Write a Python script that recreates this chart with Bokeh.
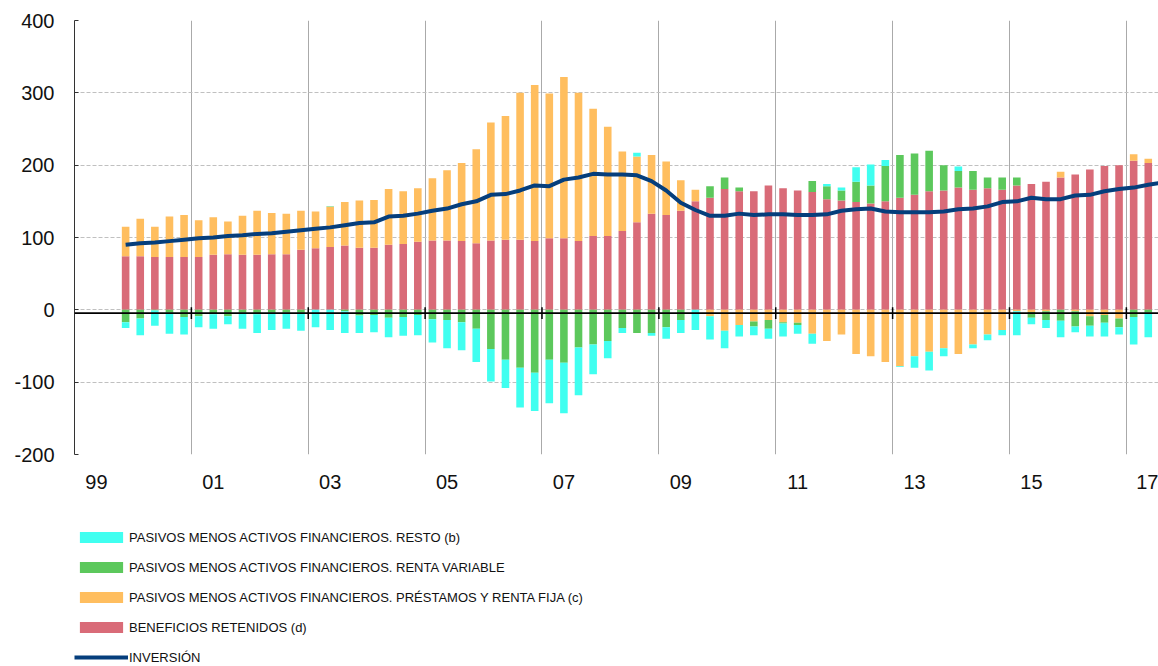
import numpy as np
from bokeh.plotting import figure
from bokeh.layouts import column
from bokeh.models import FixedTicker, Legend, LegendItem, Span, Range1d
from bokeh.embed import file_html
from bokeh.resources import INLINE

# ---------------- data ----------------
quarters = [f"{y}Q{q}" for y in range(1999, 2018) for q in range(1, 5)]
quarters = quarters[quarters.index("1999Q4"):quarters.index("2017Q2") + 1]
line_quarters = quarters + ["2017Q3"]

resto = [-8, -23, -21, -29, -24, -15, -20, -11, -22, -26, -24, -22, -25,
         -24, -28, -30, -24, -24, -27, -26, -28, -32, -39, -39, -46, -45, -39, -55, -53,
         -60, -70, -66, -41, -24, -7, 5, -4, -16, -18, -28, -32, -24, -16, -12, -14, -18,
         -12, -14, 3, 4, 20, 29, 8, -1, -16, -26, -11, 6, -5, -8, -7, -33,
         -9, -11, -23, -8, -15, -19, -10, -38, -34]

renta_variable = [-17, -12, -1, -4, -10, -9, -6, -9, -4, -6, -4, -4, -4,
                  0, 1, -2, -8, -7, -11, -10, -7, -13, -14, -17, -26, -54, -69, -80, -87,
                  -69, -73, -52, -48, -43, -25, -32, -32, -24, -14, 0, 16, 16, 5, -7, -12, -2,
                  -3, 15, 18, 14, 28, 25, 49, 59, 57, 56, 35, 23, 26, 15, 17, 11,
                  -8, -12, -15, -21, -13, -11, -12, -10, -4]

prestamos = [41, 52, 42, 56, 58, 51, 52, 45, 54, 61, 57, 56, 54,
             51, 55, 60, 65, 66, 77, 73, 74, 86, 97, 108, 130, 163, 171, 203, 216,
             200, 223, 205, 176, 151, 110, 91, 81, 74, 42, 16, -9, -29, -21, -16, -14, -17,
             -18, -33, -43, -34, -61, -64, -72, -78, -64, -58, -53, -61, -48, -34, -28, -2,
             -3, -2, 8, -2, -9, -7, -12, 9, 6]

beneficios = [74, 74, 73, 73, 73, 73, 76, 77, 76, 76, 77, 77, 83,
              85, 87, 89, 86, 86, 90, 91, 94, 96, 96, 95, 92, 96, 97, 97, 95,
              99, 99, 95, 102, 102, 109, 121, 133, 131, 137, 150, 155, 167, 164, 164, 172, 168,
              165, 163, 153, 151, 149, 147, 150, 155, 159, 164, 165, 169, 166, 168, 166, 172,
              174, 177, 183, 187, 194, 199, 200, 206, 203]

inversion = [90, 92, 93, 95, 97, 99, 100, 102, 103, 105, 106, 108, 110,
             112, 114, 117, 120, 121, 129, 130, 133, 137, 140, 146, 150, 159, 160, 165, 172,
             171, 180, 183, 188, 187, 187, 186, 178, 165, 148, 138, 130, 130, 133, 131, 132, 132,
             131, 131, 132, 137, 139, 140, 136, 135, 135, 135, 136, 139, 140, 143, 149, 150,
             155, 153, 153, 158, 159, 164, 167, 169, 173, 176]

year_labels = ["99", "01", "03", "05", "07", "09", "11", "13", "15", "17"]
y_ticks = [-200, -100, 0, 100, 200, 300, 400]

series_names = ["PASIVOS MENOS ACTIVOS FINANCIEROS. RESTO (b)",
                "PASIVOS MENOS ACTIVOS FINANCIEROS. RENTA VARIABLE",
                "PASIVOS MENOS ACTIVOS FINANCIEROS. PRÉSTAMOS Y RENTA FIJA (c)",
                "BENEFICIOS RETENIDOS (d)",
                "INVERSIÓN"]

# ---------------- helpers ----------------
def qpos(qs):
    return np.array([(int(s[:4]) - 1999) * 4 + int(s[-1]) - 1 + 0.5 for s in qs])

x = qpos(quarters)
xl = qpos(line_quarters)

b = np.array(beneficios, float)
series = [np.array(prestamos, float), np.array(renta_variable, float), np.array(resto, float)]
pos_base = b.copy()
neg_base = np.zeros_like(b)
stacks = []
for s in series:
    pp = np.clip(s, 0, None)
    nn = np.clip(s, None, 0)
    stacks.append((pos_base.copy(), pos_base + pp, neg_base + nn, neg_base.copy()))
    pos_base = pos_base + pp
    neg_base = neg_base + nn

C_RESTO = "#40fff0"
C_RV = "#5cc85c"
C_PR = "#ffbe5f"
C_BEN = "#d96b78"
C_INV = "#053e7c"

p = figure(width=1158, height=500, output_backend="svg", toolbar_location=None,
           x_range=Range1d(0, 74.2), y_range=Range1d(-200, 400),
           min_border_left=73, min_border_right=0, min_border_top=20,
           min_border_bottom=46)
p.outline_line_color = None
p.background_fill_color = "white"

W = 0.52
p.vbar(x=x, bottom=0, top=b, width=W, fill_color=C_BEN, line_color=None)
for (pb, pt, nb, nt), col in zip(stacks, [C_PR, C_RV, C_RESTO]):
    p.vbar(x=x, bottom=pb, top=pt, width=W, fill_color=col, line_color=None)
    p.vbar(x=x, bottom=nb, top=nt, width=W, fill_color=col, line_color=None)

p.line(xl, inversion, line_color=C_INV, line_width=4)

# zero baseline with small ticks
p.add_layout(Span(location=-4.5, dimension="width", line_color="black", line_width=1.6))
grid_x = [8, 16, 24, 32, 40, 48, 56, 64, 72]
p.segment(x0=grid_x, x1=grid_x, y0=[-12.5] * len(grid_x), y1=[3.5] * len(grid_x),
          line_color="black", line_width=1.5)

# axes
p.xaxis.ticker = FixedTicker(ticks=[1.5 + 8 * i for i in range(len(year_labels))])
p.xaxis.major_label_overrides = {1.5 + 8 * i: lab for i, lab in enumerate(year_labels)}
p.xaxis.axis_line_color = None
p.xaxis.major_tick_line_color = None
p.xaxis.minor_tick_line_color = None
p.xaxis.major_tick_in = 0
p.xaxis.major_tick_out = 0
p.xaxis.major_label_standoff = 20
p.xaxis.major_label_text_font = "Liberation Sans"
p.xaxis.major_label_text_font_size = "20px"
p.xaxis.major_label_text_color = "#111111"

p.yaxis.ticker = FixedTicker(ticks=y_ticks)
p.yaxis.major_label_overrides = {t: str(t) for t in y_ticks}
p.yaxis.axis_line_color = "#333333"
p.yaxis.major_tick_in = 4
p.yaxis.major_tick_out = 0
p.yaxis.major_tick_line_color = "#333333"
p.yaxis.minor_tick_line_color = None
p.yaxis.major_label_standoff = 20
p.yaxis.major_label_text_font = "Liberation Sans"
p.yaxis.major_label_text_font_size = "20px"
p.yaxis.major_label_text_color = "#111111"

p.ygrid.ticker = FixedTicker(ticks=y_ticks)
p.ygrid.grid_line_color = "#c0c0c0"
p.ygrid.grid_line_dash = "4 2"
p.ygrid.grid_line_width = 1
p.xgrid.ticker = FixedTicker(ticks=grid_x)
p.xgrid.grid_line_color = "#aaaaaa"
p.xgrid.grid_line_width = 1

# ---------------- legend panel ----------------
# The legend figure re-uses the series (drawn outside its view) only for the key glyphs.
lg = figure(width=1158, height=166, output_backend="svg", toolbar_location=None,
            x_range=Range1d(-2, -1), y_range=Range1d(-2000, -1999),
            min_border_left=74, min_border_right=0, min_border_top=27,
            min_border_bottom=0)
lg.axis.visible = False
lg.grid.visible = False
lg.outline_line_color = None

d_resto = lg.vbar(x=x, top=b, width=W, fill_color=C_RESTO, line_color=None)
d_rv = lg.vbar(x=x, top=b, width=W, fill_color=C_RV, line_color=None)
d_pr = lg.vbar(x=x, top=b, width=W, fill_color=C_PR, line_color=None)
d_ben = lg.vbar(x=x, top=b, width=W, fill_color=C_BEN, line_color=None)
d_inv = lg.line(xl, inversion, line_color=C_INV, line_width=4)

legend = Legend(items=[LegendItem(label=n, renderers=[r]) for n, r in
                       zip(series_names, [d_resto, d_rv, d_pr, d_ben, d_inv])],
                location="top_left", orientation="vertical", margin=0, padding=0,
                glyph_width=54, glyph_height=14, label_height=20, spacing=10,
                label_standoff=1,
                label_text_font="Liberation Sans", label_text_font_size="13px",
                label_text_color="#111111", border_line_color=None,
                background_fill_alpha=0)
lg.add_layout(legend)

layout = column(p, lg, spacing=0)
open("out.html", "w").write(file_html(layout, INLINE))
